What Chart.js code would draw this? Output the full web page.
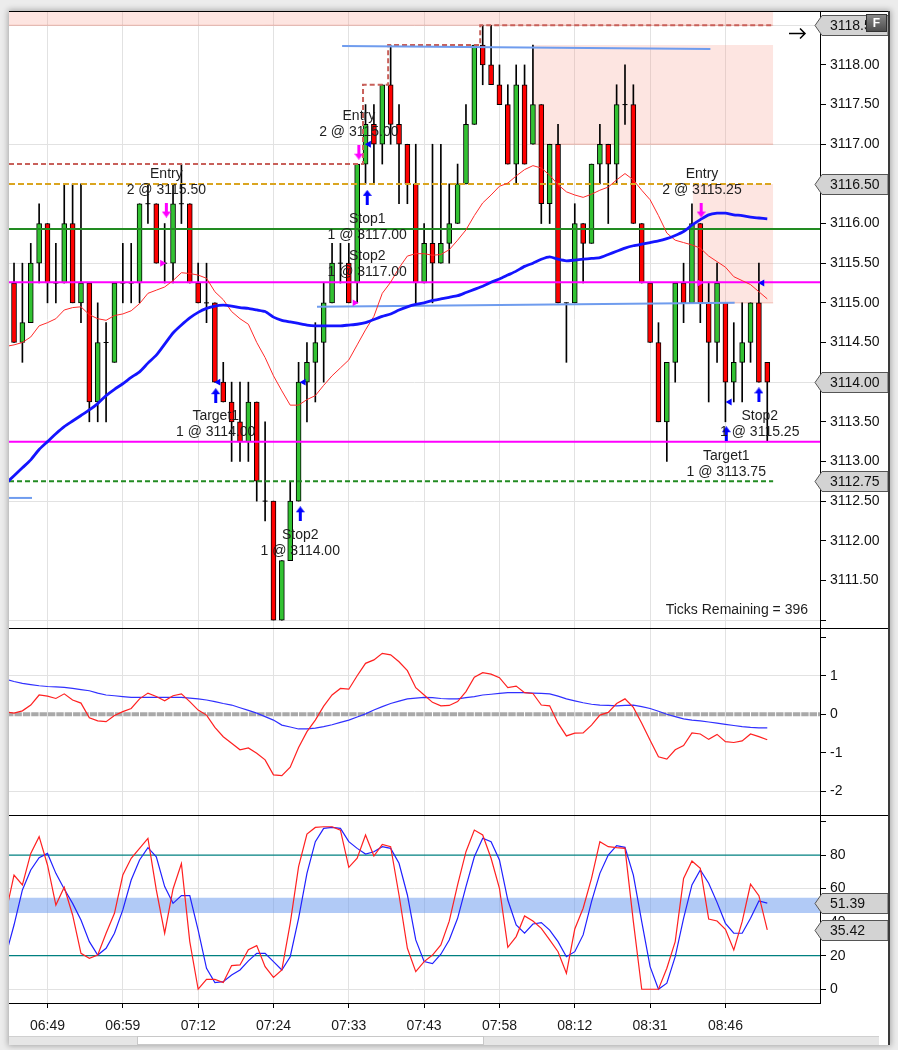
<!DOCTYPE html>
<html><head><meta charset="utf-8"><title>Chart</title>
<script src="https://cdn.jsdelivr.net/npm/chart.js@4.4.1/dist/chart.umd.min.js"></script>
<style>
html,body{margin:0;padding:0;width:898px;height:1050px;overflow:hidden;background:#ececec;}
#frame{position:absolute;left:9px;top:11px;width:881px;height:1034px;background:#fff;box-shadow:0 0 6px 1px rgba(0,0,0,0.3);}
#frame canvas{position:absolute;left:0;}
.sep{position:absolute;left:0;width:881px;height:1px;background:#000;z-index:5;}
#rb{position:absolute;left:879px;top:0;width:2px;height:1034px;background:#3a3a3a;z-index:5;}
#track{position:absolute;left:0;top:1025px;width:870px;height:8px;background:#e6e6e6;border-top:1px solid #d0d0d0;z-index:4;}
#thumb{position:absolute;left:128px;top:1025px;width:345px;height:7px;background:#fff;border:1px solid #c8c8c8;z-index:4;}
</style></head>
<body>
<div id="frame">
  <canvas id="cMain" width="881" height="617" style="top:0"></canvas>
  <canvas id="cMacd" width="881" height="187" style="top:617px"></canvas>
  <canvas id="cStoch" width="881" height="220" style="top:804px"></canvas>
  <div class="sep" style="top:0"></div>
  <div class="sep" style="top:617px"></div>
  <div class="sep" style="top:804px"></div>
  <div id="rb"></div>
  <div id="track"></div><div id="thumb"></div>
</div>
<script>
// ---------------- DATA ----------------
const timeLabels = ['06:49','06:59','07:12','07:24','07:33','07:43','07:58','08:12','08:31','08:46'];
const timeTickBars = [4,13,22,31,40,49,58,67,76,85];

const opens = [3115.25,3114.50,3114.75,3115.50,3116.00,3115.25,3115.25,3116.00,3115.00,3115.25,
 3113.75,3114.50,3114.25,3115.25,3115.25,3115.25,3116.25,3116.25,3115.50,3115.50,
 3116.25,3116.25,3115.25,3115.00,3115.00,3114.00,3113.75,3113.50,3113.25,3113.75,
 3112.50,3112.50,3111.00,3111.75,3112.50,3114.00,3114.25,3114.50,3115.00,3115.50,
 3115.50,3115.25,3116.75,3117.25,3117.00,3117.75,3117.25,3117.00,3116.50,3115.25,
 3115.75,3115.50,3115.75,3116.00,3116.50,3117.25,3118.25,3118.00,3117.75,3117.50,
 3116.75,3117.75,3117.00,3117.50,3116.25,3117.00,3115.00,3115.00,3116.00,3115.75,
 3116.75,3117.00,3116.75,3117.50,3117.50,3116.00,3115.25,3114.50,3113.50,3114.25,
 3115.25,3115.00,3116.00,3115.00,3114.50,3115.00,3114.00,3114.25,3114.50,3115.00,
 3114.25];
const highs = [3115.50,3115.50,3115.75,3116.25,3116.00,3115.75,3116.50,3116.50,3116.50,3115.25,
 3115.00,3114.75,3115.25,3115.75,3115.75,3116.25,3116.50,3116.25,3116.00,3116.50,
 3116.75,3116.25,3115.50,3115.50,3115.00,3114.25,3114.00,3114.00,3114.00,3113.75,
 3113.50,3112.50,3111.75,3112.75,3114.25,3114.50,3114.75,3115.25,3115.75,3115.75,
 3115.75,3116.75,3117.50,3117.50,3117.75,3118.25,3117.50,3117.00,3117.00,3116.00,
 3117.00,3117.00,3116.50,3116.75,3117.50,3118.25,3118.50,3118.50,3118.00,3117.75,
 3118.00,3118.00,3118.25,3117.50,3117.00,3117.25,3115.00,3116.25,3116.00,3116.75,
 3117.25,3117.00,3117.75,3118.00,3117.75,3116.00,3115.25,3114.75,3114.25,3115.25,
 3115.50,3116.25,3116.00,3115.25,3115.50,3115.00,3114.75,3115.00,3115.00,3115.50,
 3114.25];
const lows = [3114.50,3114.25,3114.75,3115.25,3115.00,3115.00,3115.25,3115.00,3114.75,3113.50,
 3113.50,3113.50,3114.25,3115.00,3115.00,3115.00,3116.00,3115.50,3115.25,3115.25,
 3116.00,3115.25,3115.00,3114.75,3114.00,3113.75,3113.00,3113.00,3113.00,3112.50,
 3112.25,3111.00,3111.00,3111.75,3112.50,3113.50,3113.75,3114.00,3115.00,3115.25,
 3115.00,3115.00,3116.50,3116.50,3116.75,3117.00,3116.25,3116.25,3115.00,3115.25,
 3115.00,3115.50,3115.50,3116.00,3116.50,3117.25,3117.75,3117.75,3117.50,3116.75,
 3116.50,3116.75,3117.00,3116.00,3116.00,3115.00,3114.25,3115.00,3115.25,3115.75,
 3116.50,3116.00,3116.50,3117.25,3116.00,3115.25,3114.50,3113.50,3113.00,3114.00,
 3114.75,3115.00,3114.75,3113.75,3114.25,3113.50,3113.75,3113.75,3114.25,3114.00,
 3113.25];
const closes = [3114.50,3114.75,3115.50,3116.00,3115.25,3115.25,3116.00,3115.00,3115.25,3113.75,
 3114.50,3114.50,3115.25,3115.25,3115.25,3116.25,3116.25,3115.50,3115.50,3116.25,
 3116.25,3115.25,3115.00,3115.00,3114.00,3113.75,3113.50,3113.25,3113.75,3112.75,
 3112.50,3111.00,3111.75,3112.50,3114.00,3114.25,3114.50,3115.00,3115.50,3115.50,
 3115.00,3116.75,3117.25,3117.00,3117.75,3117.25,3117.00,3116.50,3115.25,3115.75,
 3115.50,3115.75,3116.00,3116.50,3117.25,3118.25,3118.00,3117.75,3117.50,3116.75,
 3117.75,3116.75,3117.50,3116.25,3117.00,3115.00,3115.00,3116.00,3115.75,3116.75,
 3117.00,3116.75,3117.50,3117.50,3116.00,3115.25,3114.50,3113.50,3114.25,3115.25,
 3115.00,3116.00,3115.00,3114.50,3115.25,3114.00,3114.25,3114.50,3115.00,3114.00,
 3114.00];

// indicator series: first value belongs to the bar before bar 0
const smaValues = [3112.72,3112.82,3112.92,3113.02,3113.15,3113.25,3113.35,3113.44,3113.51,3113.58,
 3113.65,3113.73,3113.83,3113.91,3113.98,3114.06,3114.13,3114.24,3114.34,3114.48,
 3114.62,3114.72,3114.81,3114.88,3114.93,3114.96,3114.97,3114.96,3114.94,3114.93,
 3114.91,3114.89,3114.82,3114.78,3114.76,3114.74,3114.72,3114.71,3114.71,3114.71,
 3114.71,3114.72,3114.73,3114.75,3114.79,3114.83,3114.86,3114.91,3114.95,3114.98,
 3115.00,3115.03,3115.05,3115.07,3115.09,3115.13,3115.17,3115.21,3115.26,3115.30,
 3115.35,3115.40,3115.46,3115.50,3115.55,3115.58,3115.55,3115.53,3115.54,3115.55,
 3115.56,3115.57,3115.61,3115.65,3115.69,3115.72,3115.74,3115.76,3115.78,3115.81,
 3115.85,3115.90,3115.98,3116.05,3116.11,3116.13,3116.13,3116.11,3116.10,3116.08,
 3116.07,3116.06];
const emaValues = [3114.45,3114.47,3114.50,3114.57,3114.71,3114.75,3114.80,3114.91,3114.94,3114.95,
 3114.85,3114.80,3114.78,3114.84,3114.86,3114.90,3114.99,3115.12,3115.16,3115.20,
 3115.28,3115.38,3115.37,3115.35,3115.31,3115.14,3115.04,3114.89,3114.80,3114.73,
 3114.50,3114.31,3114.08,3113.89,3113.71,3113.71,3113.78,3113.83,3113.96,3114.08,
 3114.18,3114.28,3114.47,3114.66,3114.83,3115.12,3115.26,3115.44,3115.59,3115.62,
 3115.62,3115.60,3115.61,3115.67,3115.79,3115.92,3116.10,3116.26,3116.36,3116.47,
 3116.51,3116.60,3116.68,3116.73,3116.70,3116.61,3116.49,3116.40,3116.36,3116.33,
 3116.37,3116.42,3116.46,3116.55,3116.63,3116.55,3116.42,3116.30,3116.10,3115.88,
 3115.79,3115.76,3115.73,3115.69,3115.59,3115.52,3115.45,3115.33,3115.28,3115.23,
 3115.14,3115.05];
const macdValues = [0.06,0.03,0.09,0.24,0.50,0.47,0.41,0.53,0.37,0.29,
 -0.09,-0.17,-0.19,-0.03,0.07,0.15,0.40,0.55,0.46,0.35,
 0.48,0.53,0.33,0.11,-0.02,-0.34,-0.58,-0.75,-0.92,-0.87,
 -1.01,-1.18,-1.57,-1.59,-1.37,-0.86,-0.45,-0.15,0.21,0.50,
 0.67,0.65,1.00,1.32,1.41,1.58,1.54,1.36,1.13,0.69,
 0.50,0.31,0.22,0.23,0.33,0.59,0.96,1.08,1.04,0.95,
 0.69,0.73,0.56,0.54,0.24,0.22,-0.23,-0.56,-0.49,-0.48,
 -0.28,-0.02,0.05,0.28,0.40,0.18,-0.23,-0.67,-1.10,-1.16,
 -0.92,-0.81,-0.48,-0.51,-0.65,-0.52,-0.71,-0.73,-0.69,-0.51,
 -0.58,-0.66];
const signalValues = [0.91,0.85,0.80,0.77,0.74,0.72,0.71,0.70,0.67,0.64,
 0.61,0.55,0.50,0.48,0.46,0.44,0.44,0.44,0.44,0.44,
 0.44,0.44,0.42,0.40,0.37,0.33,0.28,0.24,0.17,0.10,
 0.03,-0.06,-0.15,-0.28,-0.33,-0.38,-0.38,-0.36,-0.32,-0.27,
 -0.21,-0.15,-0.07,0.01,0.11,0.20,0.28,0.34,0.40,0.42,
 0.44,0.43,0.41,0.40,0.40,0.43,0.46,0.50,0.52,0.54,
 0.56,0.56,0.56,0.55,0.54,0.53,0.47,0.40,0.35,0.30,
 0.26,0.24,0.23,0.22,0.23,0.24,0.20,0.15,0.08,0.00,
 -0.06,-0.12,-0.15,-0.17,-0.20,-0.23,-0.26,-0.29,-0.32,-0.34,
 -0.35,-0.35];
const stochK = [45.0,68.1,62.2,81.0,91.0,74.1,50.2,60.8,44.3,21.4,
 18.5,20.4,33.4,45.3,68.1,78.1,84.0,90.0,59.2,33.4,
 59.8,74.9,28.4,0.0,5.9,5.9,4.0,14.1,14.5,23.6,
 26.0,13.5,7.1,11.5,39.3,73.1,92.5,96.5,96.9,96.9,
 94.9,72.7,78.1,92.0,79.4,86.4,85.0,56.2,24.4,10.5,
 16.5,20.4,26.4,40.6,62.2,82.0,94.9,92.0,78.1,60.2,
 25.0,31.4,43.7,40.7,36.3,29.4,22.4,9.5,35.9,48.3,
 66.1,88.0,85.0,84.4,84.0,40.3,0.0,0.0,0.0,12.5,
 28.4,66.1,76.5,72.1,41.9,40.7,35.7,23.4,40.3,62.6,
 55.8,35.4];
const stochD = [20.0,38.3,59.2,71.1,78.4,81.0,69.1,59.8,51.2,41.3,
 28.4,20.4,24.4,33.4,47.3,65.1,77.1,84.4,79.0,61.2,
 51.2,55.8,55.8,35.3,12.5,4.0,4.5,8.5,11.5,16.9,
 21.4,21.4,16.5,11.5,19.4,42.3,69.1,88.0,95.9,96.5,
 95.9,88.0,84.0,80.6,82.0,85.0,84.0,75.1,56.2,29.4,
 16.5,15.3,20.9,29.4,42.3,61.2,79.0,90.0,88.0,77.1,
 53.2,38.3,33.4,38.9,39.7,35.3,28.4,19.4,22.4,32.4,
 52.2,69.1,80.0,85.6,84.6,68.1,40.3,13.5,0.0,3.6,
 19.4,42.3,62.2,71.1,63.2,51.8,39.3,33.4,33.4,42.3,
 52.6,51.4];

// price ticks and level drawings (price units / bar units)
const priceTicks = [3111.0,3111.5,3112.0,3112.5,3113.0,3113.5,3114.0,3114.5,3115.0,3115.5,3116.0,3116.5,3117.0,3117.5,3118.0,3118.5];
const macdTicks = [-2,-1,0,1,2];
const stochTicks = [0,20,40,60,80,100];
const priceTags = [3118.50,3116.50,3114.00,3112.75];
const stochTags = [51.39,35.42];
const solidLevels = [3115.93,3115.26,3113.25];       // green, magenta, magenta
const dashedLevels = [3116.50,3112.75];              // goldenrod, green
const stopSteps = [[-0.6,3116.75],[41.7,3117.75],[44.7,3118.25],[55.7,3118.50],[90.7,3118.50]];
const trendSegments = [[[39.2,3118.24],[83.2,3118.20]],[[36.2,3114.95],[86.1,3115.00]],[[-0.6,3112.54],[2.15,3112.54]]];
const zoneBoxes = [[-0.6,90.7,3118.50,3118.80],[62.0,90.7,3117.00,3118.25],[81.1,90.7,3115.00,3116.50]];
const stochLevels = [80,20];
const stochBand = [45.5,54.5];
const upArrows = [[24.1,3113.83],[34.2,3112.34],[42.2,3116.33],[85.1,3113.35],[89.0,3113.84]];
const downArrows = [[18.2,3116.17],[41.2,3116.90],[82.1,3116.17]];
const leftMarks = [[24.4,3114.00],[34.6,3114.00],[42.4,3117.00],[85.5,3113.75],[89.4,3115.25]];
const rightMarks = [[17.7,3115.50],[40.7,3115.00],[81.9,3115.25]];
const tradeNotes = [
  {bar:18.2, price:3116.62, lines:['Entry','2 @ 3115.50']},
  {bar:41.2, price:3117.36, lines:['Entry','2 @ 3115.00']},
  {bar:42.2, price:3116.05, lines:['Stop1','1 @ 3117.00']},
  {bar:42.2, price:3115.59, lines:['Stop2','1 @ 3117.00']},
  {bar:24.1, price:3113.57, lines:['Target1','1 @ 3114.00']},
  {bar:34.2, price:3112.07, lines:['Stop2','1 @ 3114.00']},
  {bar:82.2, price:3116.62, lines:['Entry','2 @ 3115.25']},
  {bar:89.1, price:3113.57, lines:['Stop2','1 @ 3115.25']},
  {bar:85.1, price:3113.07, lines:['Target1','1 @ 3113.75']}
];
const ticksRemaining = 396;

// ---------------- RENDER ----------------
const FONT = "'Liberation Sans', Arial, sans-serif";
Chart.defaults.font.family = FONT;
Chart.defaults.font.size = 14;
Chart.defaults.color = '#111';
const X_MIN = -0.6, X_MAX = 96.3;
const GRID = '#e2e2e2';

const series = (arr, start) => arr.map((v,k)=>({x:start+k, y:v}));
const pairs = arr => arr.map(p=>({x:p[0], y:p[1]}));
function hline(y, x1, x2, color, width, dash, order){
  return {type:'line', data:[{x:x1,y:y},{x:x2,y:y}], borderColor:color, borderWidth:width,
    borderDash:dash||[], pointRadius:0, fill:false, tension:0, order:order};
}
function xScale(showLabels){
  return {type:'linear', min:X_MIN, max:X_MAX, offset:false,
    afterBuildTicks: s => { s.ticks = timeTickBars.map(v=>({value:v})); },
    ticks:{display:showLabels, autoSkip:false, maxRotation:0, minRotation:0, padding:10, color:'#1a1a1a',
      callback:(v,i)=>timeLabels[i]},
    grid:{color:GRID, drawTicks:showLabels, tickLength:5, tickColor:'#000', offset:false},
    border:{display:showLabels, color:'#000'},
    afterFit: s => { s.height = showLabels ? 32 : 0; s.paddingLeft=0; s.paddingRight=0; }
  };
}
function yScale(min, max, ticks, labelFn, gridFn){
  return {type:'linear', position:'right', min:min, max:max,
    afterBuildTicks: s => { s.ticks = ticks.map(v=>({value:v})); },
    ticks:{padding:4, color:'#111', callback: labelFn, autoSkip:false},
    grid:{color: ctx => (ctx.tick && gridFn(ctx.tick.value)) ? GRID : 'rgba(0,0,0,0)', tickColor:'#000', tickLength:6, drawTicks:true},
    border:{color:'#000'},
    afterFit: s => { s.width = 70; s.paddingTop=0; s.paddingBottom=0; }
  };
}
function tagPlugin(values, digits){
  return {id:'tags', afterDraw(chart){
    const ctx=chart.ctx, ys=chart.scales.y, L=chart.chartArea.right;
    ctx.save();
    values.forEach(v=>{
      const py=Math.round(ys.getPixelForValue(v))+0.5, h=10;
      ctx.beginPath();
      ctx.moveTo(L-5,py); ctx.lineTo(L+2,py-h); ctx.lineTo(L+68,py-h); ctx.lineTo(L+68,py+h); ctx.lineTo(L+2,py+h); ctx.closePath();
      ctx.fillStyle='#d3d3d3'; ctx.fill(); ctx.strokeStyle='#555'; ctx.lineWidth=1; ctx.stroke();
      ctx.fillStyle='#111'; ctx.font='14px '+FONT; ctx.textAlign='left'; ctx.textBaseline='middle';
      ctx.fillText(v.toFixed(digits), L+10, py+1);
    });
    ctx.restore();
  }};
}
function makeArrow(color, up){
  const c=document.createElement('canvas'); c.width=9; c.height=15;
  const g=c.getContext('2d'); g.fillStyle=color; g.beginPath();
  if(up){ g.moveTo(4.5,0); g.lineTo(9,6); g.lineTo(6,6); g.lineTo(6,15); g.lineTo(3,15); g.lineTo(3,6); g.lineTo(0,6); }
  else { g.moveTo(4.5,15); g.lineTo(9,9); g.lineTo(6,9); g.lineTo(6,0); g.lineTo(3,0); g.lineTo(3,9); g.lineTo(0,9); }
  g.closePath(); g.fill(); return c;
}
const baseOpts = {responsive:false, animation:false, events:[], maintainAspectRatio:false,
  layout:{padding:0, autoPadding:false}, plugins:{legend:{display:false}, tooltip:{enabled:false}}};

// ----- candles -----
const wickData=[], upBody=[], downBody=[], dojis=[];
opens.forEach((o,i)=>{
  wickData.push({x:i, y:[lows[i], highs[i]]});
  if (closes[i] > o) upBody.push({x:i, y:[o, closes[i]]});
  else if (closes[i] < o) downBody.push({x:i, y:[closes[i], o]});
  else dojis.push({x:i, y:o});
});

const mainDatasets = [];
zoneBoxes.forEach(z=>{
  mainDatasets.push({type:'line', data:[{x:z[0],y:z[2]},{x:z[1],y:z[2]}], fill:{value:z[3]},
    backgroundColor:'rgba(247,150,135,0.25)', borderColor:'rgba(230,140,125,0.55)', borderWidth:1, pointRadius:0, order:100});
});
mainDatasets.push({type:'bar', data:wickData, backgroundColor:'#000', borderWidth:0, barThickness:1, grouped:false, order:30});
mainDatasets.push({type:'bar', data:upBody, backgroundColor:'#32c232', borderColor:'#000', borderWidth:1, borderSkipped:false, barThickness:5, grouped:false, order:29});
mainDatasets.push({type:'bar', data:downBody, backgroundColor:'#ff0000', borderColor:'#000', borderWidth:1, borderSkipped:false, barThickness:5, grouped:false, order:29});
mainDatasets.push({type:'line', data:dojis, showLine:false, pointStyle:'line', pointRadius:2.5, borderColor:'#000', borderWidth:1, order:28});
// level lines
mainDatasets.push(hline(solidLevels[0], X_MIN, X_MAX, '#228b22', 2, null, 12));
mainDatasets.push(hline(solidLevels[1], X_MIN, X_MAX, '#ff00ff', 2, null, 12));
mainDatasets.push(hline(solidLevels[2], X_MIN, X_MAX, '#ff00ff', 2, null, 12));
mainDatasets.push(hline(dashedLevels[0], X_MIN, 90.7, '#daa520', 2, [6,3], 13));
mainDatasets.push(hline(dashedLevels[1], X_MIN, 90.7, '#228b22', 2, [5,3], 13));
mainDatasets.push({type:'line', data:pairs(stopSteps), stepped:'before', borderColor:'#c8605a', borderWidth:2, borderDash:[5,3], pointRadius:0, fill:false, order:13});
trendSegments.forEach(seg=>mainDatasets.push({type:'line', data:pairs(seg), borderColor:'#6f9cee', borderWidth:2, pointRadius:0, fill:false, order:11}));
// averages
mainDatasets.push({type:'line', data:series(emaValues,-1), borderColor:'#ff2a2a', borderWidth:1, pointRadius:0, tension:0, fill:false, order:9});
mainDatasets.push({type:'line', data:series(smaValues,-1), borderColor:'#1414ff', borderWidth:2.8, pointRadius:0, tension:0.2, fill:false, order:8});
// markers
mainDatasets.push({type:'line', data:pairs(upArrows), showLine:false, pointStyle:makeArrow('#0000ff',true), pointRadius:6, order:2});
mainDatasets.push({type:'line', data:pairs(downArrows), showLine:false, pointStyle:makeArrow('#ff00ff',false), pointRadius:6, order:2});
mainDatasets.push({type:'line', data:pairs(leftMarks), showLine:false, pointStyle:'triangle', rotation:270, pointRadius:4, backgroundColor:'#0000ff', borderColor:'#0000ff', borderWidth:0, order:2});
mainDatasets.push({type:'line', data:pairs(rightMarks), showLine:false, pointStyle:'triangle', rotation:90, pointRadius:4, backgroundColor:'#ff00ff', borderColor:'#ff00ff', borderWidth:0, order:2});

const isPriceGrid = v => { const k=(v-3111)/1.5; return Math.abs(k-Math.round(k))<1e-6; };

const mainExtras = {id:'mainExtras', afterDatasetsDraw(chart){
  const {ctx, chartArea:a, scales:{x,y}} = chart;
  ctx.save();
  ctx.font='14px '+FONT; ctx.fillStyle='#1e1e1e'; ctx.textAlign='center'; ctx.textBaseline='middle';
  tradeNotes.forEach(n=>{
    const px=x.getPixelForValue(n.bar), py=y.getPixelForValue(n.price);
    n.lines.forEach((t,k)=>ctx.fillText(t, px, py+k*16));
  });
  ctx.textAlign='right';
  ctx.fillText('Ticks Remaining = '+ticksRemaining, a.right-12, a.bottom-18);
  // arrow glyph top right
  ctx.strokeStyle='#000'; ctx.lineWidth=1.5; ctx.beginPath();
  ctx.moveTo(a.right-31,22.5); ctx.lineTo(a.right-15,22.5);
  ctx.moveTo(a.right-20,17.5); ctx.lineTo(a.right-15,22.5); ctx.lineTo(a.right-20,27.5);
  ctx.stroke();
  ctx.restore();
}, afterDraw(chart){
  const ctx=chart.ctx, L=chart.chartArea.right;
  ctx.save();
  const g=ctx.createLinearGradient(0,3,0,21); g.addColorStop(0,'#8a8a8a'); g.addColorStop(1,'#4a4a4a');
  ctx.fillStyle=g; ctx.fillRect(L+46,3,21,18); ctx.strokeStyle='#333'; ctx.lineWidth=1; ctx.strokeRect(L+46.5,3.5,20,17);
  ctx.fillStyle='#fff'; ctx.font='bold 12px '+FONT; ctx.textAlign='center'; ctx.textBaseline='middle';
  ctx.fillText('F', L+56.5, 12.5);
  ctx.restore();
}};

new Chart(document.getElementById('cMain'), {
  type:'line', data:{datasets:mainDatasets},
  options:Object.assign({}, baseOpts, {scales:{
    x:xScale(false),
    y:yScale(3110.90, 3118.68, priceTicks, v => (v<3111.2||v>3118.3)?'':v.toFixed(2), isPriceGrid)
  }}),
  plugins:[tagPlugin(priceTags,2), mainExtras]
});

// ----- MACD panel -----
new Chart(document.getElementById('cMacd'), {
  type:'line',
  data:{datasets:[
    {data:[{x:X_MIN,y:0},{x:X_MAX,y:0}], borderColor:'#a9a9a9', borderWidth:4, borderDash:[7.37,1], borderDashOffset:2.9, pointRadius:0, order:10},
    {data:series(signalValues,-1), borderColor:'#3030ff', borderWidth:1.2, pointRadius:0, tension:0, order:5},
    {data:series(macdValues,-1), borderColor:'#ff2020', borderWidth:1.2, pointRadius:0, tension:0, order:4}
  ]},
  options:Object.assign({}, baseOpts, {scales:{
    x:xScale(false),
    y:yScale(-2.609, 2.236, macdTicks, v => v===2?'':String(v), v => v===1||v===-2)
  }})
});

// ----- Stochastics panel -----
new Chart(document.getElementById('cStoch'), {
  type:'line',
  data:{datasets:[
    {data:[{x:X_MIN,y:stochBand[0]},{x:X_MAX,y:stochBand[0]}], fill:{value:stochBand[1]}, backgroundColor:'rgba(100,149,237,0.5)', borderWidth:0, pointRadius:0, order:20},
    hline(stochLevels[0], X_MIN, X_MAX, '#008080', 1.2, null, 15),
    hline(stochLevels[1], X_MIN, X_MAX, '#008080', 1.2, null, 15),
    {data:series(stochD,-1), borderColor:'#2020ff', borderWidth:1.2, pointRadius:0, tension:0, order:5},
    {data:series(stochK,-1), borderColor:'#ff2020', borderWidth:1.2, pointRadius:0, tension:0, order:4}
  ]},
  options:Object.assign({}, baseOpts, {scales:{
    x:xScale(true),
    y:yScale(-8.2, 103.9, stochTicks, v => v===100?'':String(v), v => v===0||v===60)
  }}),
  plugins:[tagPlugin(stochTags,2)]
});
</script>
</body></html>
